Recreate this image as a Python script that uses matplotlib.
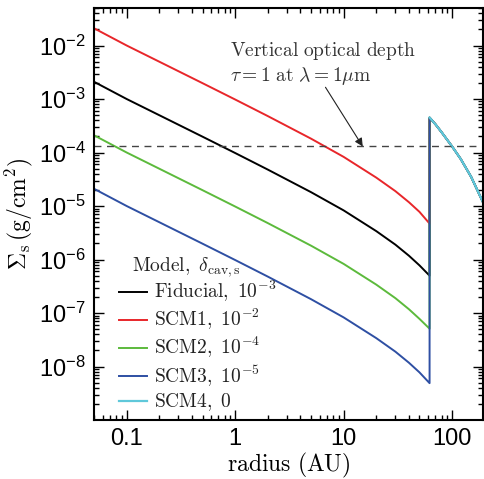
import matplotlib
matplotlib.use('Agg')
import matplotlib.pyplot as plt
from matplotlib.ticker import FixedLocator, LogLocator, NullFormatter

plt.rcParams['mathtext.fontset'] = 'custom'
plt.rcParams['mathtext.rm'] = 'Liberation Sans'
plt.rcParams['mathtext.it'] = 'Liberation Sans:italic'
plt.rcParams['font.family'] = ['Liberation Sans']

# radii (AU) of the inner disk, up to the cavity edge
r_inner = [0.05, 0.1, 0.2, 0.5, 1, 2, 5, 10, 20, 30, 40, 50, 62]
# surface density of small dust (g/cm^2)
sigma_fid = [2.1e-3, 1.0e-3, 4.98e-4, 1.98e-4, 9.8e-5, 4.8e-5, 1.82e-5, 8.3e-6,
             3.4e-6, 1.9e-6, 1.18e-6, 7.8e-7, 5.0e-7]
sigma_scm1 = [2.1e-2, 1.0e-2, 4.98e-3, 1.98e-3, 9.8e-4, 4.8e-4, 1.82e-4, 8.3e-5,
              3.4e-5, 1.9e-5, 1.18e-5, 7.8e-6, 4.7e-6]
sigma_scm2 = [2.1e-4, 1.0e-4, 4.98e-5, 1.98e-5, 9.8e-6, 4.8e-6, 1.82e-6, 8.3e-7,
              3.4e-7, 1.9e-7, 1.18e-7, 7.8e-8, 5.1e-8]
sigma_scm3 = [2.1e-5, 1.0e-5, 4.98e-6, 1.98e-6, 9.8e-7, 4.8e-7, 1.82e-7, 8.3e-8,
              3.4e-8, 1.9e-8, 1.18e-8, 7.8e-9, 4.9e-9]

# outer disk (same for all models)
r_outer = [62, 70, 80, 100, 120, 150, 200]
sigma_outer = [4.5e-4, 3.4e-4, 2.4e-4, 1.3e-4, 7.6e-5, 3.5e-5, 1.0e-5]

tau1_level = 1.3e-4

models = [r'$\mathrm{Fiducial,}\ 10^{-3}$', r'$\mathrm{SCM1,}\ 10^{-2}$',
          r'$\mathrm{SCM2,}\ 10^{-4}$', r'$\mathrm{SCM3,}\ 10^{-5}$',
          r'$\mathrm{SCM4,}\ 0$']
inner = [sigma_fid, sigma_scm1, sigma_scm2, sigma_scm3, None]
colors = ['black', '#e8262a', '#5cba3c', '#2e4fa3', '#5fc8da']

fig = plt.figure(figsize=(4.85, 4.79), dpi=100)
ax = fig.add_axes([0.194, 0.123, 0.802, 0.860])

for label, sig, c in zip(models, inner, colors):
    if sig is None:
        ax.plot(r_outer, sigma_outer, color=c, lw=1.6, label=label)
    else:
        ax.plot(r_inner + r_outer, sig + sigma_outer, color=c, lw=1.4, label=label)

ax.axhline(tau1_level, color='#444444', lw=1.0, ls=(0, (5, 4)))

ax.set_xscale('log')
ax.set_yscale('log')
ax.set_xlim(0.05, 193)
ax.set_ylim(1e-9, 5e-2)

ax.xaxis.set_major_locator(FixedLocator([0.1, 1, 10, 100]))
ax.set_xticklabels(['0.1', '1', '10', '100'])
ax.xaxis.set_minor_locator(LogLocator(base=10, subs=range(2, 10), numticks=20))
ax.xaxis.set_minor_formatter(NullFormatter())

yt = [1e-8, 1e-7, 1e-6, 1e-5, 1e-4, 1e-3, 1e-2]
ax.yaxis.set_major_locator(FixedLocator(yt))
ax.set_yticklabels([r'$10^{-%d}$' % e for e in [8, 7, 6, 5, 4, 3, 2]])
ax.yaxis.set_minor_locator(LogLocator(base=10, subs=range(2, 10), numticks=20))
ax.yaxis.set_minor_formatter(NullFormatter())

ax.tick_params(which='both', direction='in', top=True, right=True, width=1.0)
ax.tick_params(which='major', length=7, labelsize=17, pad=6)
ax.tick_params(which='minor', length=3.5)
for s in ax.spines.values():
    s.set_linewidth(1.5)

xl = ax.set_xlabel(r'$\mathrm{radius\ (AU)}$', fontsize=17, labelpad=0)
yl = ax.set_ylabel(r'$\Sigma_{\rm s}\,\mathrm{(g/cm^2)}$', fontsize=17, labelpad=3)
xl.set_math_fontfamily('cm')
yl.set_math_fontfamily('cm')

ax.text(0.89, 1.25e-2, r'$\mathrm{Vertical\ optical\ depth}$' + '\n'
        + r'$\tau = 1\ \mathrm{at}\ \lambda = 1\mu\mathrm{m}$',
        fontsize=14, color='#333333', ha='left', va='top', linespacing=1.15,
        math_fontfamily='cm')
ax.annotate('', xy=(15, tau1_level), xytext=(6.8, 1.66e-3),
            arrowprops=dict(arrowstyle='-|>', color='#222222', lw=0.8,
                            shrinkA=0, shrinkB=0, mutation_scale=12))

leg = ax.legend(loc='lower left', bbox_to_anchor=(0.035, -0.012), frameon=False,
                fontsize=14, handlelength=1.4, handletextpad=0.4,
                labelspacing=0.15, borderaxespad=0.2)
for t in leg.get_texts():
    t.set_color('#222222')
    t.set_math_fontfamily('cm')
ax.text(0.237, 0.371, r'$\mathrm{Model,}\ \delta_{\rm cav,s}$', transform=ax.transAxes,
        fontsize=14, color='#222222', ha='center', va='center', math_fontfamily='cm')

fig.savefig('out.png', dpi=100)
